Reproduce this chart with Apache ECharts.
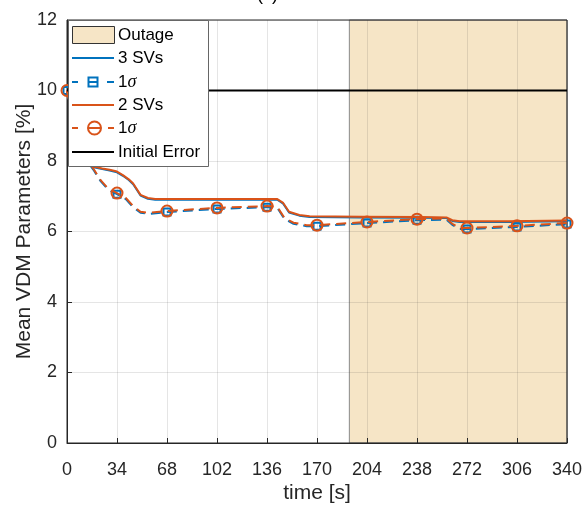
<!DOCTYPE html>
<html>
<head>
<meta charset="utf-8">
<script src="https://cdn.jsdelivr.net/npm/echarts@6/dist/echarts.min.js"></script>
<style>html,body{margin:0;padding:0;background:#fff}#c{width:584px;height:506px}</style>
</head>
<body>
<div id="c"></div>
<script>
// ---- data ----
const xTicks = [0, 34, 68, 102, 136, 170, 204, 238, 272, 306, 340];
const yTicks = [0, 2, 4, 6, 8, 10, 12];
const outageStart = 192, outageEnd = 340;
const initialError = 10;
const legendNames = ['Outage', '3 SVs', '1σ', '2 SVs', '1σ', 'Initial Error'];

const tSolid = [0, 4, 8, 12, 18, 24, 29, 34, 38, 42, 45, 50, 55, 60, 100, 143, 147, 151, 158, 165, 200, 240, 258, 262, 267, 300, 340];
const sv2Solid = [10, 9.3, 8.6, 8.2, 7.84, 7.79, 7.75, 7.7, 7.6, 7.48, 7.36, 7.04, 6.95, 6.92, 6.92, 6.92, 6.81, 6.56, 6.47, 6.43, 6.42, 6.41, 6.4, 6.32, 6.29, 6.29, 6.31];
const sv3Solid = [10, 9.28, 8.58, 8.18, 7.82, 7.77, 7.73, 7.68, 7.58, 7.46, 7.34, 7.02, 6.93, 6.9, 6.9, 6.9, 6.79, 6.54, 6.45, 6.41, 6.4, 6.39, 6.38, 6.3, 6.27, 6.27, 6.29];

const tSigma = [0, 5, 10, 15, 18, 23, 28, 34, 40, 45, 50, 56, 68, 102, 136, 143, 148, 154, 163, 170, 204, 238, 258, 262, 267, 272, 306, 340];
const sv2Sigma = [10, 9.0, 8.3, 7.95, 7.78, 7.45, 7.22, 7.09, 6.95, 6.72, 6.56, 6.53, 6.58, 6.67, 6.72, 6.7, 6.38, 6.25, 6.18, 6.18, 6.27, 6.35, 6.37, 6.22, 6.1, 6.1, 6.16, 6.24];
const sv3Sigma = [10, 8.97, 8.27, 7.92, 7.75, 7.42, 7.19, 7.06, 6.92, 6.69, 6.53, 6.5, 6.55, 6.64, 6.69, 6.67, 6.35, 6.22, 6.15, 6.15, 6.24, 6.32, 6.34, 6.19, 6.07, 6.07, 6.13, 6.21];
const markerTimes = [0, 34, 68, 102, 136, 170, 204, 238, 272, 306, 340];

const BLUE = '#0072BD', ORANGE = '#D95319', AX = '#262626', OUTAGE = '#F6E5C6';
const FONT = '"Liberation Sans", Arial, Helvetica, sans-serif';
const GRIDC = 'rgba(38,38,38,0.12)';

function pairs(ts, vs) { return ts.map((t, i) => [t, vs[i]]); }
function withMarkers(ts, vs) {
  return ts.map((t, i) => markerTimes.includes(t) ? { value: [t, vs[i]] } : { value: [t, vs[i]], symbol: 'none' });
}

// ---- legend drawn as graphic (MATLAB-like) ----
const LX = 68, LY = 20, LW = 140, LH = 146;
const rowY = [35, 58, 82, 105, 128, 152];
const ix0 = 72, ix1 = 114, tx = 118;
const LZ = 100;
function seg(x1, y, x2, color) {
  return { type: 'line', z: LZ + 1, shape: { x1: x1, y1: y, x2: x2, y2: y }, style: { stroke: color, lineWidth: 2 } };
}
function label(i) {
  const name = legendNames[i];
  const isSigma = name === '1σ';
  return {
    type: 'text', z: LZ + 2, x: tx, y: rowY[i],
    style: isSigma ? {
      text: '{n|1}{s|σ}', verticalAlign: 'middle', textVerticalAlign: 'middle',
      rich: { n: { fontFamily: FONT, fontSize: 17, fill: '#000', color: '#000' },
              s: { fontFamily: '"Liberation Serif", "DejaVu Serif", serif', fontStyle: 'italic', fontSize: 18, fill: '#000', color: '#000' } }
    } : { text: name, font: '17px ' + FONT, fill: '#000', verticalAlign: 'middle', textVerticalAlign: 'middle' }
  };
}
const legendChildren = [
  { type: 'rect', z: LZ, shape: { x: LX + 0.5, y: LY + 0.5, width: LW, height: LH }, style: { fill: '#fff', stroke: '#666', lineWidth: 1 } },
  { type: 'rect', z: LZ + 1, shape: { x: ix0 + 0.5, y: 26.5, width: ix1 - ix0, height: 17 }, style: { fill: OUTAGE, stroke: '#333', lineWidth: 1 } },
  seg(ix0, rowY[1], ix1, BLUE),
  seg(ix0, rowY[2], 78, BLUE), seg(88, rowY[2], 98, BLUE), seg(107, rowY[2], ix1, BLUE),
  { type: 'rect', z: LZ + 2, shape: { x: 88.5, y: rowY[2] - 4.5, width: 9, height: 9 }, style: { fill: 'none', stroke: BLUE, lineWidth: 2 } },
  seg(ix0, rowY[3], ix1, ORANGE),
  seg(ix0, rowY[4], 78, ORANGE), seg(88, rowY[4], 101, ORANGE), seg(108, rowY[4], ix1, ORANGE),
  { type: 'circle', z: LZ + 2, shape: { cx: 94.5, cy: rowY[4], r: 6.5 }, style: { fill: 'none', stroke: ORANGE, lineWidth: 2 } },
  seg(ix0, rowY[5], ix1, '#000')
];
for (let i = 0; i < legendNames.length; i++) legendChildren.push(label(i));

const chart = echarts.init(document.getElementById('c'), null, { renderer: 'canvas' });
chart.setOption({
  animation: false,
  textStyle: { fontFamily: FONT },
  title: { text: '(c)', left: 252, top: -19, textStyle: { fontFamily: FONT, fontSize: 18, fontWeight: 'normal', color: '#000' } },
  grid: { left: 67, right: 17, top: 20, bottom: 63, show: true, borderColor: AX, borderWidth: 1, backgroundColor: 'transparent', containLabel: false, outerBoundsMode: 'none' },
  graphic: { elements: legendChildren },
  xAxis: {
    type: 'value', min: 0, max: 340, interval: 34,
    name: 'time [s]', nameLocation: 'middle', nameGap: 40, nameMoveOverlap: false,
    nameTextStyle: { fontFamily: FONT, fontSize: 21, color: AX },
    axisLine: { show: true, lineStyle: { color: AX, width: 1 } },
    axisTick: { show: true, inside: true, length: 5, lineStyle: { color: AX } },
    axisLabel: { fontFamily: FONT, fontSize: 18, color: AX, margin: 18, formatter: v => xTicks.includes(v) ? String(v) : '' },
    splitLine: { show: true, lineStyle: { color: GRIDC, width: 1 } }
  },
  yAxis: {
    type: 'value', min: 0, max: 12, interval: 2,
    name: 'Mean VDM Parameters [%]', nameLocation: 'middle', nameGap: 32, nameMoveOverlap: false,
    nameTextStyle: { fontFamily: FONT, fontSize: 21, color: AX },
    axisLine: { show: true, lineStyle: { color: AX, width: 1 } },
    axisTick: { show: true, inside: true, length: 5, lineStyle: { color: AX } },
    axisLabel: { fontFamily: FONT, fontSize: 18, color: AX, margin: 10, formatter: v => yTicks.includes(v) ? String(v) : '' },
    splitLine: { show: true, lineStyle: { color: GRIDC, width: 1 } }
  },
  series: [
    {
      name: 'Outage', type: 'line', data: [], z: -1,
      markArea: {
        silent: true, z: -1,
        itemStyle: { color: OUTAGE, borderColor: '#8a8a8a', borderWidth: 1 },
        data: [[{ xAxis: outageStart }, { xAxis: outageEnd }]]
      }
    },
    {
      name: '3 SVs', type: 'line', z: 3, symbol: 'none', data: pairs(tSolid, sv3Solid),
      itemStyle: { color: BLUE }, lineStyle: { color: BLUE, width: 2 }
    },
    {
      name: '1σ (3 SVs)', type: 'line', z: 3, symbol: 'rect', symbolSize: 7, showSymbol: true,
      data: withMarkers(tSigma, sv3Sigma),
      itemStyle: { color: 'rgba(0,0,0,0)', borderColor: BLUE, borderWidth: 2 },
      lineStyle: { color: BLUE, width: 2, type: [10, 6] }
    },
    {
      name: '2 SVs', type: 'line', z: 4, symbol: 'none', data: pairs(tSolid, sv2Solid),
      itemStyle: { color: ORANGE }, lineStyle: { color: ORANGE, width: 2 }
    },
    {
      name: '1σ (2 SVs)', type: 'line', z: 4, symbol: 'circle', symbolSize: 11, showSymbol: true,
      data: withMarkers(tSigma, sv2Sigma),
      itemStyle: { color: 'rgba(0,0,0,0)', borderColor: ORANGE, borderWidth: 2 },
      lineStyle: { color: ORANGE, width: 2, type: [10, 6] }
    },
    {
      name: 'Initial Error', type: 'line', z: 5, symbol: 'none',
      data: [[0, initialError], [340, initialError]],
      itemStyle: { color: '#000' }, lineStyle: { color: '#000', width: 2 }
    }
  ]
});
</script>
</body>
</html>
